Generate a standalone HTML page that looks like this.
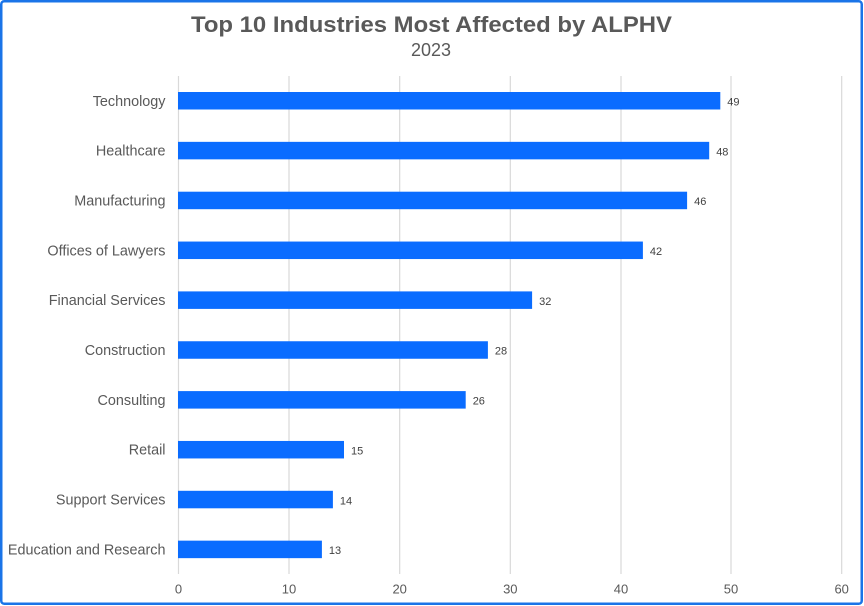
<!DOCTYPE html>
<html>
<head>
<meta charset="utf-8">
<style>
html,body{margin:0;padding:0;background:#fff;}
svg{display:block;}
text{font-family:"Liberation Sans",Arial,sans-serif;}
</style>
</head>
<body>
<svg width="864" height="606" viewBox="0 0 864 606" xmlns="http://www.w3.org/2000/svg">
<rect x="0" y="0" width="864" height="606" fill="#ffffff"/>
<rect x="1.25" y="1.25" width="860.5" height="602.5" rx="3" ry="3" fill="none" stroke="#1a74e8" stroke-width="2.5"/>
<text x="431.5" y="32" text-anchor="middle" font-size="22" font-weight="bold" fill="#595959" textLength="481" lengthAdjust="spacingAndGlyphs">Top 10 Industries Most Affected by ALPHV</text>
<text x="431" y="56" text-anchor="middle" font-size="18" fill="#595959">2023</text>
<g stroke="#d9d9d9" stroke-width="1.2">
<line x1="178.5" y1="76" x2="178.5" y2="574"/>
<line x1="289" y1="76" x2="289" y2="574"/>
<line x1="399.7" y1="76" x2="399.7" y2="574"/>
<line x1="510.3" y1="76" x2="510.3" y2="574"/>
<line x1="621" y1="76" x2="621" y2="574"/>
<line x1="731" y1="76" x2="731" y2="574"/>
<line x1="841.7" y1="76" x2="841.7" y2="574"/>
</g>
<g font-size="13" fill="#595959" text-anchor="middle">
<text x="178.5" y="593.5">0</text>
<text x="289" y="593.5">10</text>
<text x="399.7" y="593.5">20</text>
<text x="510.3" y="593.5">30</text>
<text x="621" y="593.5">40</text>
<text x="731" y="593.5">50</text>
<text x="841.7" y="593.5">60</text>
</g>
<g fill="#0a6cff">
<rect x="178" y="92" width="542.3" height="17.5"/>
<rect x="178" y="141.85" width="531.2" height="17.5"/>
<rect x="178" y="191.7" width="509.1" height="17.5"/>
<rect x="178" y="241.55" width="464.9" height="17.5"/>
<rect x="178" y="291.4" width="354.1" height="17.5"/>
<rect x="178" y="341.25" width="309.9" height="17.5"/>
<rect x="178" y="391.1" width="287.7" height="17.5"/>
<rect x="178" y="440.95" width="166" height="17.5"/>
<rect x="178" y="490.8" width="154.9" height="17.5"/>
<rect x="178" y="540.65" width="143.9" height="17.5"/>
</g>
<g font-size="11" fill="#404040">
<text x="727.3" y="105.5">49</text>
<text x="716.2" y="155.3">48</text>
<text x="694.1" y="205.2">46</text>
<text x="649.9" y="255">42</text>
<text x="539.1" y="304.9">32</text>
<text x="494.9" y="354.7">28</text>
<text x="472.7" y="404.6">26</text>
<text x="351" y="454.4">15</text>
<text x="339.9" y="504.3">14</text>
<text x="328.9" y="554.1">13</text>
</g>
<g font-size="14.4" fill="#595959" text-anchor="end">
<text x="165.5" y="105.8">Technology</text>
<text x="165.5" y="155.6">Healthcare</text>
<text x="165.5" y="205.5">Manufacturing</text>
<text x="165.5" y="255.3">Offices of Lawyers</text>
<text x="165.5" y="305.2">Financial Services</text>
<text x="165.5" y="355">Construction</text>
<text x="165.5" y="404.9">Consulting</text>
<text x="165.5" y="454.7">Retail</text>
<text x="165.5" y="504.6">Support Services</text>
<text x="165.5" y="554.4">Education and Research</text>
</g>
</svg>
</body>
</html>
